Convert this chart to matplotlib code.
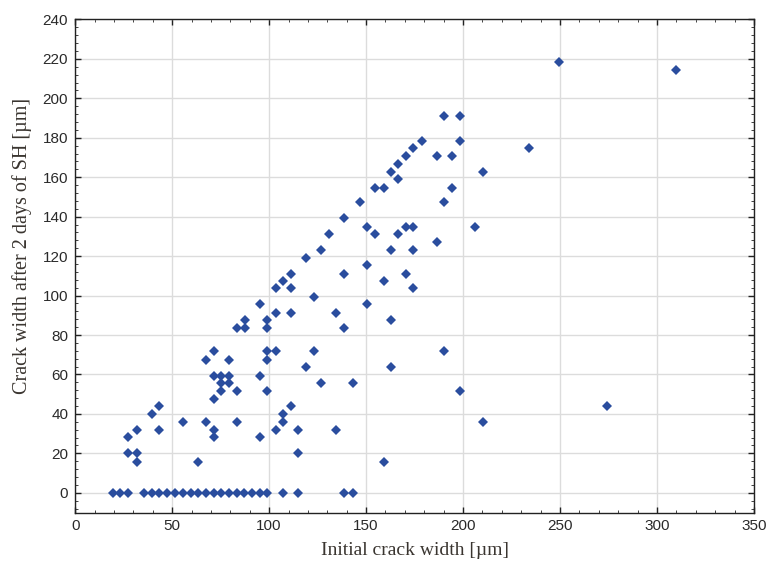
import matplotlib
matplotlib.use("Agg")
import matplotlib.pyplot as plt
from matplotlib.ticker import MultipleLocator

# Zero-row points (initial width, healed to 0)
x_zero = [19.5, 23.3, 27.3, 35.5, 39.5, 43.3, 47.6, 51.7, 55.5, 59.5, 63.3, 67.3,
          71.4, 75.4, 79.3, 83.3, 87.3, 91.2, 95.2, 99.0, 107.1, 114.7, 138.5, 143.1]
y_zero = [0] * len(x_zero)

# Non-zero points
x_pts = [27.3, 27.3, 31.9, 31.9, 31.9, 39.5, 43.3, 43.3, 55.5, 63.3,
         67.4, 67.4, 71.4, 71.4, 71.4, 71.4, 71.4, 75.4, 75.4, 75.4,
         79.3, 79.3, 79.3, 83.3, 83.3, 83.3, 87.4, 87.4, 95.2, 95.2,
         95.2, 99.0, 99.0, 99.0, 99.0, 99.0, 103.3, 103.3, 103.3, 103.3,
         107.1, 107.1, 107.1, 111.2, 111.2, 111.2, 111.2, 114.7, 114.7, 118.8,
         118.8, 123.1, 123.1, 126.9, 126.9, 130.7, 134.5, 134.5, 138.5, 138.5,
         138.5, 143.1, 146.9, 150.7, 150.7, 150.7, 154.5, 154.5, 159.0, 159.0,
         159.0, 162.8, 162.8, 162.8, 162.8, 166.6, 166.6, 166.6, 170.4, 170.4,
         170.4, 174.2, 174.2, 174.2, 174.2, 178.8, 186.4, 186.4, 190.4, 190.4,
         190.4, 194.2, 194.2, 198.5, 198.5, 198.5, 206.1, 210.2, 210.2, 234.2,
         249.7, 274.2, 309.7]
y_pts = [28.1, 20.0, 31.8, 20.0, 15.5, 40.1, 43.8, 31.8, 35.7, 15.5,
         67.3, 35.7, 71.7, 59.3, 47.5, 31.8, 28.1, 59.3, 55.6, 51.7,
         67.3, 59.3, 55.6, 83.7, 51.7, 35.7, 87.4, 83.7, 95.5, 59.3,
         28.1, 87.4, 83.7, 71.7, 67.3, 51.7, 103.6, 91.1, 71.7, 31.8,
         107.3, 40.1, 35.7, 111.0, 103.6, 91.1, 43.8, 31.8, 20.0, 119.2,
         63.6, 99.2, 71.7, 122.9, 55.6, 131.0, 91.1, 31.8, 139.1, 111.0,
         83.7, 55.6, 147.3, 134.7, 115.3, 95.5, 154.6, 131.0, 154.6, 107.3,
         15.5, 162.8, 122.9, 87.4, 63.6, 166.5, 159.1, 131.0, 170.9, 134.7,
         111.0, 174.8, 134.7, 122.9, 103.6, 178.3, 170.9, 127.3, 190.9, 147.3,
         71.7, 170.9, 154.6, 190.9, 178.3, 51.7, 134.7, 162.8, 35.7, 174.8,
         218.4, 43.8, 214.5]

x_ticks = [0, 50, 100, 150, 200, 250, 300, 350]
y_ticks = [0, 20, 40, 60, 80, 100, 120, 140, 160, 180, 200, 220, 240]
x_label = "Initial crack width [µm]"
y_label = "Crack width after 2 days of SH [µm]"

fig = plt.figure(figsize=(7.67, 5.72), dpi=100)
ax = fig.add_axes([0.098, 0.104, 0.885, 0.862])

color = "#2a4d9e"
ax.plot(x_zero + x_pts, y_zero + y_pts, linestyle="none", marker="D",
        markersize=4.9, color=color, markeredgewidth=0, zorder=3)

ax.set_xlim(0, 350)
ax.set_ylim(-10, 240)
ax.set_xticks(x_ticks)
ax.set_yticks(y_ticks)
ax.xaxis.set_minor_locator(MultipleLocator(10))
ax.yaxis.set_minor_locator(MultipleLocator(4))
ax.grid(True, which="major", color="#dcdcdc", linewidth=1.0)
ax.set_axisbelow(True)

tick_font = ["Liberation Sans", "DejaVu Sans"]
ax.tick_params(which="both", direction="in", top=True, right=True,
               colors="#222222", labelcolor="#2a2a2a", labelsize=11)
ax.tick_params(which="major", length=4, width=1, pad=5)
ax.tick_params(which="minor", length=2, width=0.6)
for lbl in ax.get_xticklabels() + ax.get_yticklabels():
    lbl.set_family(tick_font)

for s in ax.spines.values():
    s.set_color("#222222")
    s.set_linewidth(1.0)

ax.set_xlabel(x_label, family=["Liberation Serif", "DejaVu Serif"],
              fontsize=14, color="#3a3530", labelpad=6)
ax.set_ylabel(y_label, family=["Liberation Serif", "DejaVu Serif"],
              fontsize=14.5, color="#3a3530")
ax.yaxis.set_label_coords(-0.064, 0.54)

fig.savefig("out.png", dpi=100)
